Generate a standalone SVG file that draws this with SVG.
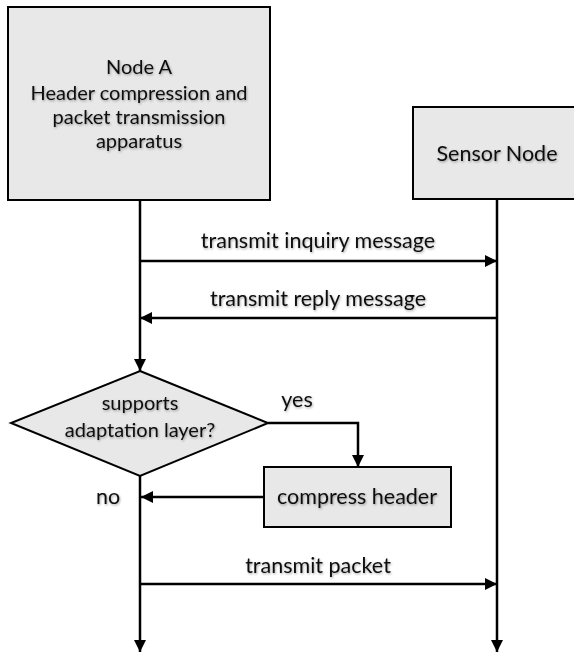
<svg xmlns="http://www.w3.org/2000/svg" width="574" height="653" viewBox="0 0 574 653">
  <defs>
    <filter id="soft" x="-10%" y="-30%" width="120%" height="160%">
      <feDropShadow dx="0.8" dy="1.2" stdDeviation="0.9" flood-color="#000" flood-opacity="0.35"/>
    </filter>
    <marker id="arrow" viewBox="0 0 12 12" refX="12" refY="6" markerWidth="12" markerHeight="12" markerUnits="userSpaceOnUse" orient="auto">
      <path d="M0,0 L12,6 L0,12 Z" fill="#000"/>
    </marker>
    <style>
      .box { fill: #e8e8e8; stroke: #000; stroke-width: 2; }
      .lbl { font-family: "Lato", "Open Sans", "Liberation Sans", sans-serif; font-size: 21.5px; fill: #111; text-anchor: middle; filter: url(#soft); }
      .small { font-size: 20px; }
      .wire { fill: none; stroke: #000; stroke-width: 2.5; }
      .arr { marker-end: url(#arrow); }
    </style>
  </defs>

  <rect width="574" height="653" fill="#fff"/>

  <!-- connectors -->
  <g id="connectors">
    <!-- Node A lifeline down to decision -->
    <line class="wire arr" x1="140" y1="201" x2="140" y2="371"/>
    <!-- Sensor node lifeline -->
    <line class="wire arr" x1="497" y1="200" x2="497" y2="652"/>
    <!-- inquiry -->
    <line class="wire arr" x1="140" y1="261" x2="497" y2="261"/>
    <!-- reply -->
    <line class="wire arr" x1="497" y1="318" x2="140" y2="318"/>
    <!-- yes branch -->
    <polyline class="wire arr" points="268,423 358,423 358,467"/>
    <!-- compress header back to lifeline -->
    <line class="wire arr" x1="264" y1="497" x2="141" y2="497"/>
    <!-- lifeline after decision -->
    <line class="wire arr" x1="140" y1="476" x2="140" y2="652"/>
    <!-- packet -->
    <line class="wire arr" x1="140" y1="584" x2="497" y2="584"/>
  </g>

  <g id="node-a">
    <rect class="box" x="8" y="7" width="262" height="193"/>
    <text class="lbl small" x="139" y="74">Node A</text>
    <text class="lbl small" x="139" y="100">Header compression and</text>
    <text class="lbl small" x="139" y="124">packet transmission</text>
    <text class="lbl small" x="139" y="148">apparatus</text>
  </g>

  <g id="sensor-node">
    <rect class="box" x="413" y="107" width="168" height="92"/>
    <text class="lbl" x="497" y="161">Sensor Node</text>
  </g>

  <g id="decision">
    <polygon class="box" points="140,371 268,423 140,476 11,423"/>
    <text class="lbl small" x="140" y="410">supports</text>
    <text class="lbl small" x="140" y="437">adaptation layer?</text>
  </g>

  <g id="compress">
    <rect class="box" x="264" y="467" width="187" height="60"/>
    <text class="lbl" x="357" y="504">compress header</text>
  </g>

  <g id="labels">
    <text class="lbl" x="318" y="248">transmit inquiry message</text>
    <text class="lbl" x="318" y="306">transmit reply message</text>
    <text class="lbl" x="297" y="407">yes</text>
    <text class="lbl" x="108" y="504">no</text>
    <text class="lbl" x="318" y="573">transmit packet</text>
  </g>
</svg>
